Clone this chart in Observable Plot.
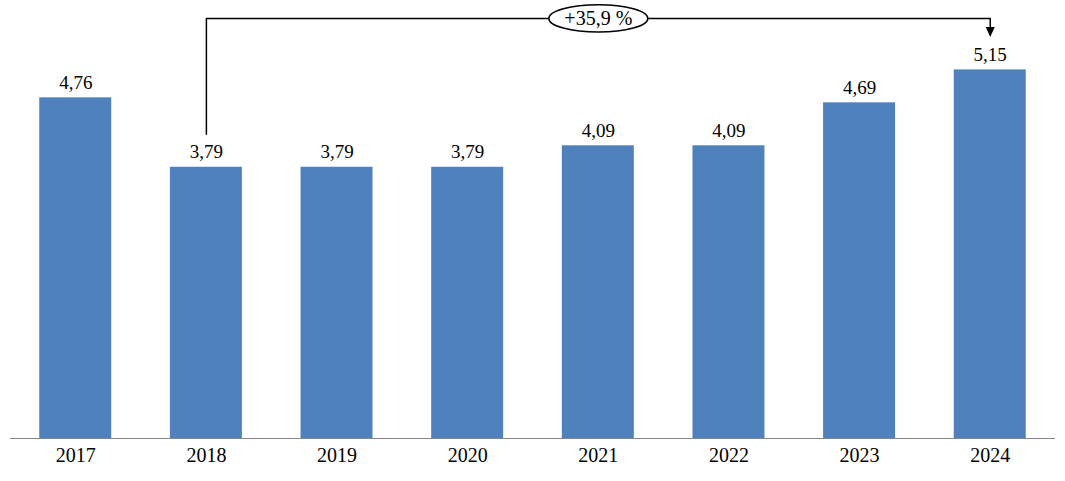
<!DOCTYPE html>
<html><head><meta charset="utf-8">
<script src="https://cdn.jsdelivr.net/npm/d3@7"></script>
<script src="https://cdn.jsdelivr.net/npm/@observablehq/plot@0.6"></script>
<style>body{margin:0;background:#fff}</style>
</head><body><div id="chart"></div>
<script>
const years = ["2017", "2018", "2019", "2020", "2021", "2022", "2023", "2024"];
const values = [4.76, 3.79, 3.79, 3.79, 4.09, 4.09, 4.69, 5.15];
const valueLabels = ["4,76", "3,79", "3,79", "3,79", "4,09", "4,09", "4,69", "5,15"];
const changeLabel = "+35,9 %";
const changeFrom = "2018", changeTo = "2024", changeMid = "2021";

const data = years.map((y, i) => ({year: y, value: values[i], label: valueLabels[i]}));
const font = "'Liberation Serif', 'Times New Roman', serif";

// annotation geometry (in value units)
const lineStart = 4.25, lineTop = 5.87, arrowTip = 5.61, arrowBase = 5.72;
const connector = [
  {x: changeFrom, y: lineStart},
  {x: changeFrom, y: lineTop},
  {x: changeTo, y: lineTop},
  {x: changeTo, y: arrowBase}
];

const ellipseSymbol = {draw(ctx) {
  const rx = 49.5, ry = 13.7, k = 0.5523;
  ctx.moveTo(rx, 0);
  ctx.bezierCurveTo(rx, ry * k, rx * k, ry, 0, ry);
  ctx.bezierCurveTo(-rx * k, ry, -rx, ry * k, -rx, 0);
  ctx.bezierCurveTo(-rx, -ry * k, -rx * k, -ry, 0, -ry);
  ctx.bezierCurveTo(rx * k, -ry, rx, -ry * k, rx, 0);
  ctx.closePath();
}};
const arrowSymbol = {draw(ctx) {
  ctx.moveTo(-4.5, -10);
  ctx.lineTo(4.5, -10);
  ctx.lineTo(0, 0);
  ctx.closePath();
}};

const chart = Plot.plot({
  width: 1065,
  height: 481,
  marginLeft: 10,
  marginRight: 10,
  marginTop: 0,
  marginBottom: 43,
  style: {fontFamily: font, fontSize: "19px", color: "#000", background: "#fff"},
  x: {domain: years, paddingInner: 0.449, paddingOuter: 0.224, round: false},
  y: {domain: [0, 6.12], axis: null},
  marks: [
    Plot.barY(data, {x: "year", y: "value", fill: "#4F81BD"}),
    Plot.ruleY([0], {stroke: "#868686", strokeWidth: 1}),
    Plot.text(data, {x: "year", y: "value", text: "label", lineAnchor: "bottom", dy: -9, fontSize: 19, fill: "#000"}),
    Plot.axisX({tickSize: 0, tickPadding: 9, fontSize: 20, label: null, fill: "#000"}),
    Plot.line(connector, {x: "x", y: "y", stroke: "#000", strokeWidth: 1.5, curve: "linear"}),
    Plot.dot([{x: changeTo, y: arrowTip}], {x: "x", y: "y", symbol: arrowSymbol, fill: "#000", stroke: "none"}),
    Plot.dot([{x: changeMid, y: lineTop}], {x: "x", y: "y", symbol: ellipseSymbol, fill: "#fff", stroke: "#000", strokeWidth: 1.5}),
    Plot.text([{x: changeMid, y: lineTop, t: changeLabel}], {x: "x", y: "y", text: "t", fontSize: 20, fill: "#000"})
  ]
});
document.getElementById("chart").appendChild(chart);
</script>
</body></html>
